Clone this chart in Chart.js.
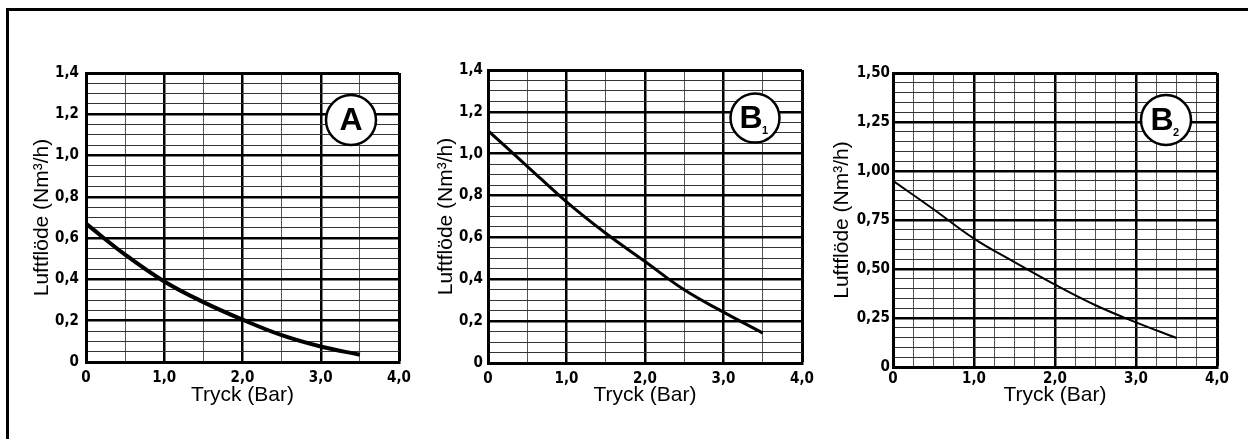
<!DOCTYPE html>
<html>
<head>
<meta charset="utf-8">
<script src="https://cdn.jsdelivr.net/npm/chart.js@4/dist/chart.umd.min.js"></script>
<style>
  html, body { margin: 0; padding: 0; background: #fff; }
  body { width: 1248px; height: 439px; position: relative; overflow: hidden; }
  #frame { position: absolute; left: 6px; top: 8px; width: 1300px; height: 500px;
           border-left: 3px solid #000; border-top: 3px solid #000; }
  canvas { position: absolute; top: 0; }
</style>
</head>
<body>
<div id="frame"></div>
<canvas id="cA" width="420" height="439" style="left:0px;width:420px;height:439px"></canvas>
<canvas id="cB1" width="408" height="439" style="left:420px;width:408px;height:439px"></canvas>
<canvas id="cB2" width="420" height="439" style="left:828px;width:420px;height:439px"></canvas>
<script>
// ---- data ----
const pressure = [0, 0.5, 1.0, 1.5, 2.0, 2.5, 3.0, 3.5];          // Tryck (Bar)
const flowA  = [0.67, 0.52, 0.39, 0.29, 0.205, 0.13, 0.075, 0.035]; // Luftflöde A
const flowB1 = [1.11, 0.94, 0.77, 0.62, 0.485, 0.35, 0.243, 0.143]; // Luftflöde B1
const flowB2 = [0.95, 0.805, 0.655, 0.535, 0.42, 0.315, 0.228, 0.148]; // Luftflöde B2

const xTickValues = [0, 1, 2, 3, 4];
const xTickLabels = ['0', '1,0', '2,0', '3,0', '4,0'];
const yTickValuesA = [0, 0.2, 0.4, 0.6, 0.8, 1.0, 1.2, 1.4];
const yTickLabelsA = ['0', '0,2', '0,4', '0,6', '0,8', '1,0', '1,2', '1,4'];
const yTickValuesB2 = [0, 0.25, 0.5, 0.75, 1.0, 1.25, 1.5];
const yTickLabelsB2 = ['0', '0,25', '0,50', '0,75', '1,00', '1,25', '1,50'];

const xTitle = 'Tryck (Bar)';
const yTitle = 'Luftflöde (Nm³/h)';

// ---- helpers ----
const tickFont = { family: "'Liberation Sans Narrow', 'DejaVu Sans Condensed', 'Arial Narrow', sans-serif", size: 15, weight: 'bold' };
const titleFont = { family: "'Liberation Sans', Arial, sans-serif", size: 21, weight: 'normal', lineHeight: 1.2 };

function findLabel(values, labels, v) {
  for (let i = 0; i < values.length; i++) if (Math.abs(values[i] - v) < 1e-6) return labels[i];
  return '';
}
function isIn(values, v) { return values.some(t => Math.abs(t - v) < 1e-6); }

const badgePlugin = {
  id: 'badge',
  afterDraw(chart, args, o) {
    const ctx = chart.ctx, a = chart.chartArea;
    const cx = a.right + o.dx, cy = a.top + o.dy;
    ctx.save();
    ctx.beginPath();
    ctx.arc(cx, cy, o.r, 0, Math.PI * 2);
    ctx.fillStyle = '#fff';
    ctx.fill();
    ctx.lineWidth = 2.5;
    ctx.strokeStyle = '#000';
    ctx.stroke();
    ctx.fillStyle = '#000';
    ctx.textAlign = 'center';
    ctx.textBaseline = 'middle';
    ctx.font = "bold 32px 'Liberation Sans', Arial, sans-serif";
    ctx.fillText(o.letter, cx + (o.sub ? -4 : 0), cy + 1);
    if (o.sub) {
      ctx.font = "bold 11px 'Liberation Sans', Arial, sans-serif";
      ctx.fillText(o.sub, cx + 10, cy + 13);
    }
    ctx.restore();
  }
};

function makeChart(id, cfg) {
  const majorX = xTickValues;
  new Chart(document.getElementById(id), {
    type: 'line',
    data: {
      datasets: [{
        data: pressure.map((p, i) => ({ x: p, y: cfg.flow[i] })),
        borderColor: '#000',
        borderWidth: cfg.lineWidth,
        pointRadius: 0,
        tension: 0.4,
        fill: false
      }]
    },
    options: {
      responsive: false,
      animation: false,
      devicePixelRatio: 1,
      layout: { padding: { left: 0, top: cfg.top, right: cfg.right, bottom: 0 } },
      plugins: {
        legend: { display: false },
        tooltip: { enabled: false },
        badge: cfg.badge
      },
      scales: {
        x: {
          type: 'linear',
          min: 0, max: 4,
          afterFit: s => { s.height = cfg.xHeight; },
          ticks: {
            stepSize: cfg.xStep,
            autoSkip: false,
            maxRotation: 0,
            padding: cfg.xPad,
            color: '#000',
            font: tickFont,
            callback: v => findLabel(xTickValues, xTickLabels, v)
          },
          grid: {
            drawTicks: false,
            color: c => isIn(majorX, c.tick.value) ? '#000' : '#555',
            lineWidth: c => (c.tick.value === 4) ? 3 : (isIn(majorX, c.tick.value) ? 2.5 : 1)
          },
          border: { display: true, color: '#000', width: 3 },
          title: {
            display: true, text: xTitle, color: '#000', font: titleFont,
            padding: { top: 0, bottom: cfg.xTitlePad }
          }
        },
        y: {
          type: 'linear',
          min: 0, max: cfg.yMax,
          afterFit: s => { s.width = cfg.yWidth; },
          ticks: {
            stepSize: 0.05,
            autoSkip: false,
            padding: cfg.yPad,
            color: '#000',
            font: tickFont,
            callback: v => findLabel(cfg.yVals, cfg.yLabels, v)
          },
          grid: {
            drawTicks: false,
            color: c => isIn(cfg.yVals, c.tick.value) ? '#000' : '#333',
            lineWidth: c => Math.abs(c.tick.value - cfg.yMax) < 1e-6 ? 3 : (isIn(cfg.yVals, c.tick.value) ? 2.5 : 1)
          },
          border: { display: true, color: '#000', width: 3 },
          title: {
            display: true, text: yTitle, color: '#000', font: titleFont,
            padding: { top: cfg.yTitlePad, bottom: 0 }
          }
        }
      }
    },
    plugins: [badgePlugin]
  });
}

makeChart('cA', {
  flow: flowA, lineWidth: 4, yMax: 1.4, yVals: yTickValuesA, yLabels: yTickLabelsA,
  xStep: 0.5, top: 73, right: 21, xHeight: 77, yWidth: 86, xPad: 7, yPad: 7,
  xTitlePad: 31, yTitlePad: 30,
  badge: { dx: -48, dy: 47, r: 25, letter: 'A' }
});
makeChart('cB1', {
  flow: flowB1, lineWidth: 3, yMax: 1.4, yVals: yTickValuesA, yLabels: yTickLabelsA,
  xStep: 0.5, top: 70, right: 26, xHeight: 76, yWidth: 68, xPad: 7, yPad: 5,
  xTitlePad: 31, yTitlePad: 14,
  badge: { dx: -47, dy: 48, r: 24.5, letter: 'B', sub: '1' }
});
makeChart('cB2', {
  flow: flowB2, lineWidth: 2, yMax: 1.5, yVals: yTickValuesB2, yLabels: yTickLabelsB2,
  xStep: 0.25, top: 73, right: 31, xHeight: 72, yWidth: 65, xPad: 3, yPad: 3,
  xTitlePad: 31, yTitlePad: 2,
  badge: { dx: -51, dy: 47, r: 25, letter: 'B', sub: '2' }
});
</script>
</body>
</html>
